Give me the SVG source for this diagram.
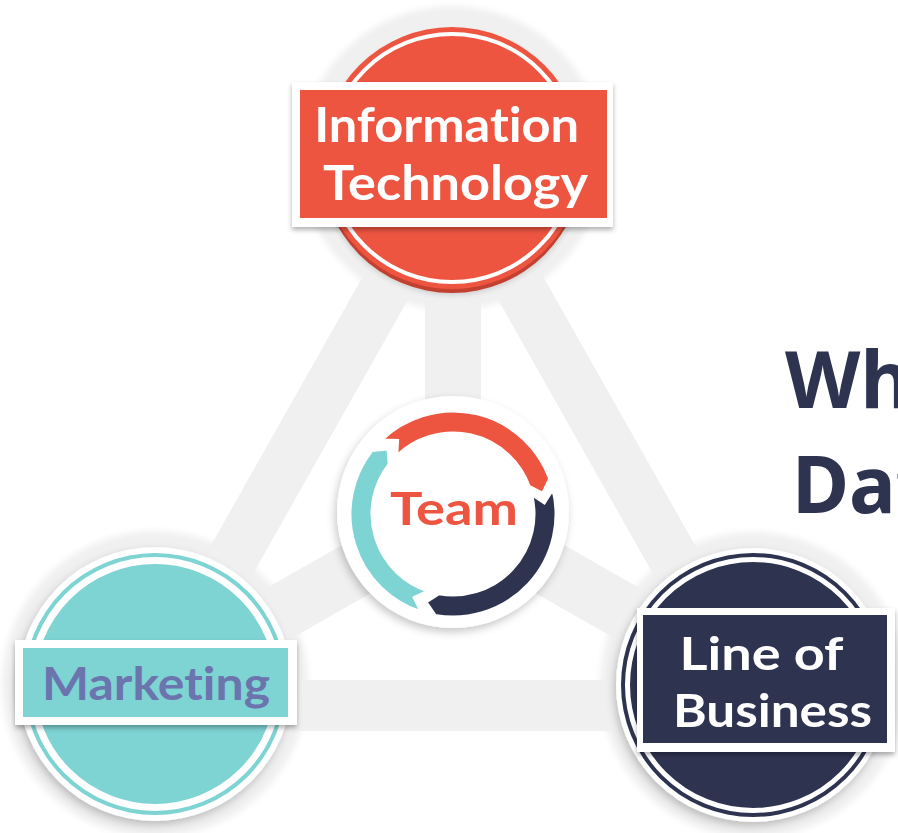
<svg xmlns="http://www.w3.org/2000/svg" width="898" height="833" viewBox="0 0 898 833">
  <defs>
    <style>
      .band { fill: #f0f0f0; }
      .spoke { stroke: #f0f0f0; stroke-width: 56; fill: none; }
      .halo { fill: #f0f0f0; filter: url(#soft); }
      .frame { fill: #ffffff; filter: url(#drop); }
      .lbl { font-family: Lato, "Noto Sans", "Liberation Sans", sans-serif; font-weight: 700; text-anchor: middle; font-variant-ligatures: none; font-feature-settings: "liga" 0, "clig" 0; }
      .head { font-family: "Noto Sans", "Open Sans", "Liberation Sans", sans-serif; font-weight: 700; fill: #2e3350; }
      .red { fill: #ee5541; }
      .teal { fill: #7ed3d3; }
      .navy { fill: #2e3350; }
    </style>
    <filter id="soft" x="-20%" y="-20%" width="140%" height="140%">
      <feGaussianBlur stdDeviation="3"/>
    </filter>
    <filter id="drop" x="-20%" y="-20%" width="140%" height="150%">
      <feDropShadow dx="0" dy="3" stdDeviation="2.5" flood-color="#000000" flood-opacity="0.3"/>
    </filter>
    <filter id="discShadow" x="-20%" y="-20%" width="140%" height="140%">
      <feDropShadow dx="-2" dy="4" stdDeviation="4" flood-color="#000000" flood-opacity="0.22"/>
    </filter>
  </defs>

  <rect width="898" height="833" fill="#ffffff"/>

  <!-- frame triangle and spokes linking the team hub to each group -->
  <g id="connectors">
    <path class="band" fill-rule="evenodd" d="M453 117 L106 731 L800 731 Z M453 220 L713 680 L193 680 Z"/>
    <line class="spoke" x1="453" y1="514" x2="453" y2="158"/>
    <line class="spoke" x1="453" y1="514" x2="155" y2="684"/>
    <line class="spoke" x1="453" y1="514" x2="753" y2="685"/>
  </g>

  <!-- halos behind the nodes -->
  <circle class="halo" cx="452" cy="158" r="152"/>
  <circle class="halo" cx="155" cy="684" r="153"/>
  <circle class="halo" cx="753" cy="685" r="153"/>

  <!-- central hub -->
  <g id="node-team">
    <circle cx="453" cy="512" r="116" fill="#ffffff" filter="url(#discShadow)"/>
    <g stroke="#ffffff" stroke-width="3" stroke-linejoin="miter">
      <path class="teal" d="M421.17 611.96 A103 103 0 0 1 371.84 450.58 L387.95 448.95 L389.17 464.13 A81 81 0 0 0 427.97 591.04 L414.12 597.38 Z"/>
      <path class="red" d="M381.45 439.91 A103 103 0 0 1 549.79 478.77 L542.64 493.30 L529.11 486.30 A81 81 0 0 0 396.73 455.74 L397.63 440.53 Z"/>
      <path class="navy" d="M552.94 489.08 A103 103 0 0 1 435.12 615.43 L426.10 601.98 L438.94 593.77 A81 81 0 0 0 531.59 494.41 L544.31 502.79 Z"/>
    </g>
    <text class="lbl" x="454" y="525" font-size="46" fill="#ee5541" textLength="128" lengthAdjust="spacingAndGlyphs">Team</text>
  </g>

  <!-- Information Technology -->
  <g id="node-it">
    <circle cx="452" cy="163" r="131" fill="#000000" opacity="0.18" filter="url(#soft)"/>
    <circle cx="452" cy="162" r="131" fill="#c2402f"/>
    <circle class="red" cx="452" cy="158" r="131"/>
    <circle cx="452" cy="158" r="124" fill="none" stroke="#ffffff" stroke-width="4"/>
    <rect class="frame" x="292" y="82" width="321" height="145"/>
    <rect class="red" x="300" y="90" width="307" height="128"/>
    <text class="lbl" font-size="48" fill="#ffffff">
      <tspan x="452.5" y="142" textLength="265" lengthAdjust="spacingAndGlyphs">Information</tspan>
      <tspan x="455.5" y="200" textLength="265" lengthAdjust="spacingAndGlyphs">Technology</tspan>
    </text>
  </g>

  <!-- Marketing -->
  <g id="node-marketing">
    <circle cx="155" cy="684" r="137" fill="#ffffff" filter="url(#discShadow)"/>
    <circle class="teal" cx="155" cy="684" r="131"/>
    <circle cx="155" cy="684" r="123.5" fill="none" stroke="#ffffff" stroke-width="7"/>
    <rect class="frame" x="15" y="640" width="282" height="85"/>
    <rect class="teal" x="23" y="648" width="265" height="69"/>
    <text class="lbl" x="156" y="700" font-size="46" fill="#6c74ad" textLength="228" lengthAdjust="spacingAndGlyphs">Marketing</text>
  </g>

  <!-- Line of Business -->
  <g id="node-lob">
    <circle cx="753" cy="685" r="137" fill="#ffffff" filter="url(#discShadow)"/>
    <circle class="navy" cx="753" cy="685" r="132"/>
    <circle cx="753" cy="685" r="125.5" fill="none" stroke="#ffffff" stroke-width="5"/>
    <rect class="frame" x="637" y="608" width="258" height="144"/>
    <rect class="navy" x="643" y="615" width="244" height="128"/>
    <text class="lbl" font-size="46" fill="#ffffff">
      <tspan x="766.5" y="670" textLength="163" lengthAdjust="spacingAndGlyphs">Line of</tspan>
      <tspan x="772.5" y="727" textLength="199" lengthAdjust="spacingAndGlyphs">Business</tspan>
    </text>
  </g>

  <!-- heading text running off the right edge -->
  <g id="heading">
    <text class="head" x="785" y="408" font-size="78">Wh</text>
    <text class="head" x="792" y="513" font-size="78">Dat</text>
  </g>
</svg>
